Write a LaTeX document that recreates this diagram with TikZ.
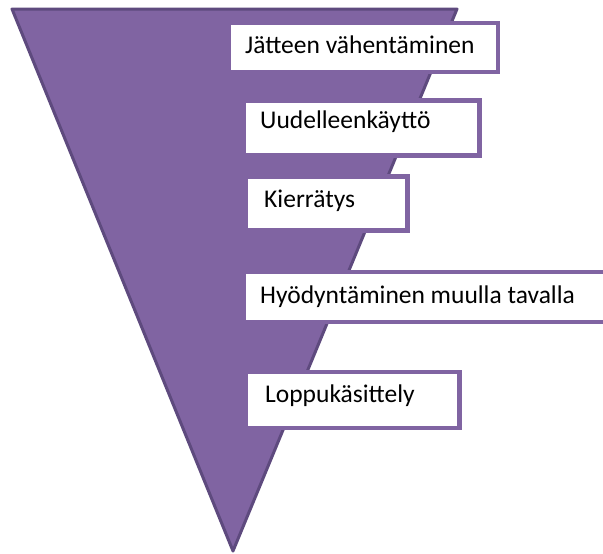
\documentclass[tikz,border=0pt]{standalone}
\usepackage{fontspec}
\setmainfont{Carlito}
\definecolor{pfill}{HTML}{8064A2}
\definecolor{pline}{HTML}{5E4A7E}
\begin{document}
\begin{tikzpicture}[x=1pt,y=-1pt,
  boxst/.style={draw=pfill,fill=white,line width=4.5pt,inner sep=0pt},
  lbl/.style={anchor=base west,inner sep=0pt,font=\fontsize{25.5}{28}\selectfont}]
\useasboundingbox (0,0) rectangle (603,554);
\filldraw[fill=pfill,draw=pline,line width=3pt,line join=round]
  (12,9) coordinate (tl) -- (457,9) coordinate (tr) -- (233,551) coordinate (tip) -- cycle;
\node[boxst,minimum width=269.5pt,minimum height=49pt,anchor=north west] (b1) at (226,20.5) {};
\node[boxst,minimum width=236pt,minimum height=55pt,anchor=north west] (b2) at (241,98) {};
\node[boxst,minimum width=162pt,minimum height=54pt,anchor=north west] (b3) at (243,174) {};
\node[boxst,minimum width=379pt,minimum height=50pt,anchor=north west] (b4) at (241,269.5) {};
\node[boxst,minimum width=214pt,minimum height=56pt,anchor=north west] (b5) at (243,369.5) {};
\node[lbl] (t1) at (245,53) {Jätteen vähentäminen};
\node[lbl] (t2) at (260,128) {Uudelleenkäyttö};
\node[lbl] (t3) at (264,207) {Kierrätys};
\node[lbl] (t4) at (260,303) {Hyödyntäminen muulla tavalla};
\node[lbl] (t5) at (265,402) {Loppukäsittely};
\end{tikzpicture}
\end{document}
